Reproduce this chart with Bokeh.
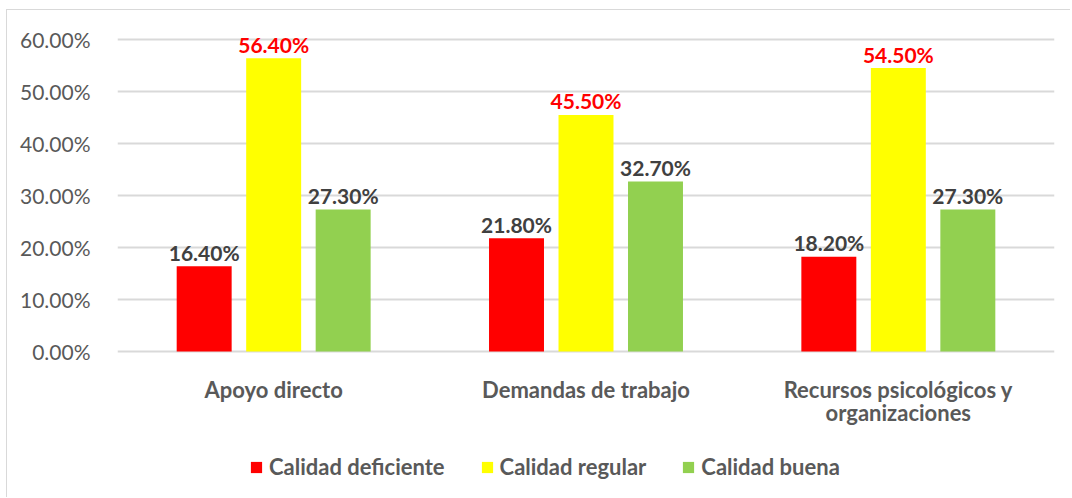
from bokeh.plotting import figure
from bokeh.models import (ColumnDataSource, FactorRange, FixedTicker, NumeralTickFormatter, Legend,
                          LegendItem, Range1d)
from bokeh.transform import dodge
from bokeh.core.properties import value
from bokeh.embed import file_html
from bokeh.resources import INLINE

categories = ["Apoyo directo", "Demandas de trabajo", "Recursos psicológicos y organizaciones"]
cat_labels = ["Apoyo directo", "Demandas de trabajo", "Recursos psicológicos y\norganizaciones"]
series_names = ["Calidad deficiente", "Calidad regular", "Calidad buena"]
deficiente = [16.40, 21.80, 18.20]
regular = [56.40, 45.50, 54.50]
buena = [27.30, 32.70, 27.30]
y_ticks = [0, 10, 20, 30, 40, 50, 60]

FONT = "Lato"
GRAY = "#595959"
DARK = "#404040"

src = ColumnDataSource(dict(
    cat=categories,
    lab=cat_labels,
    zero=[0.0] * len(categories),
    d=[v / 100 for v in deficiente],
    r=[v / 100 for v in regular],
    b=[v / 100 for v in buena],
    dl=[f"{v:.2f}%" for v in deficiente],
    rl=[f"{v:.2f}%" for v in regular],
    bl=[f"{v:.2f}%" for v in buena],
))

# frame: 10% of value = 52 px; frame extends from above the 60% line down to the canvas bottom
PX_PER_UNIT = 520.0
y_top = 0.60 + 19 / PX_PER_UNIT
y_bottom = -147 / PX_PER_UNIT

p = figure(x_range=FactorRange(*categories, range_padding=0), y_range=Range1d(y_bottom, y_top),
           width=1064, height=488, output_backend="svg", toolbar_location=None,
           min_border_left=110, min_border_right=17, min_border_top=10, min_border_bottom=0)

step = 0.2225
bw = 0.176
cols = [("d", "dl", "#FF0000", -step, DARK), ("r", "rl", "#FFFF00", 0.0, "#FF0000"), ("b", "bl", "#92D050", step, DARK)]
renderers = []
for (key, lkey, color, off, tcolor) in cols:
    r = p.vbar(x=dodge("cat", off, range=p.x_range), top=key, width=bw, source=src,
               fill_color=color, line_color=None)
    renderers.append(r)
    p.text(x=dodge("cat", off, range=p.x_range), y=key, text=lkey, source=src,
           text_align="center", text_baseline="alphabetic", y_offset=-14,
           text_font=value(FONT), text_font_style="bold", text_font_size="21px",
           text_color=tcolor)

# category labels under the baseline
p.text(x="cat", y="zero", text="lab", source=src, text_align="center", text_baseline="top",
       y_offset=24, text_font=value(FONT), text_font_style="bold", text_font_size="22px",
       text_color=GRAY, text_line_height=0.87)

p.yaxis.ticker = FixedTicker(ticks=[t / 100 for t in y_ticks])
p.yaxis.formatter = NumeralTickFormatter(format="0.00%")
p.yaxis.axis_line_color = None
p.yaxis.major_tick_line_color = None
p.yaxis.minor_tick_line_color = None
p.yaxis.major_label_standoff = 21
p.yaxis.major_label_text_font = FONT
p.yaxis.major_label_text_font_size = "21px"
p.yaxis.major_label_text_color = GRAY

p.xaxis.visible = False
p.xgrid.grid_line_color = None
p.ygrid.grid_line_color = "#d9d9d9"
p.ygrid.grid_line_width = 2
p.outline_line_color = None

legend = Legend(items=[LegendItem(label=n, renderers=[r]) for n, r in zip(series_names, renderers)],
                orientation="horizontal", location=(132, 18),
                label_text_font=FONT, label_text_font_size="22px", label_text_font_style="bold",
                label_text_color=GRAY, glyph_width=14, glyph_height=14, label_standoff=6,
                spacing=35, padding=0, margin=0, border_line_color=None, background_fill_alpha=0)
p.add_layout(legend, "center")

p.styles = {"margin-left": "6px", "margin-top": "9px",
            "border-left": "1px solid #d9d9d9", "border-top": "1px solid #d9d9d9"}

open("out.html", "w").write(file_html(p, INLINE))
